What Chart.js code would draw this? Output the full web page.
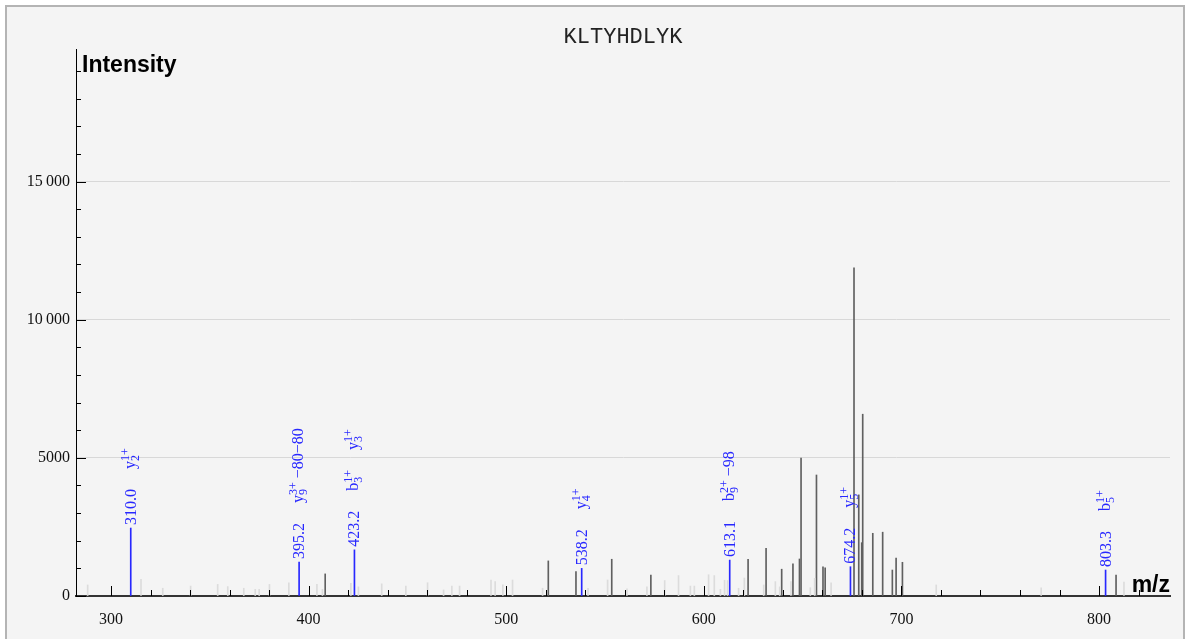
<!DOCTYPE html>
<html>
<head>
<meta charset="utf-8">
<title>KLTYHDLYK</title>
<script src="https://cdn.jsdelivr.net/npm/chart.js@4.4.0/dist/chart.umd.min.js"></script>
<style>
  body { margin: 0; background: #fff; }
  #frame { position: absolute; left: 5px; top: 5px; width: 1176px; height: 660px; border: 2px solid #b4b4b4; background: #f4f4f4; }
  #spectrum { position: absolute; left: 0; top: 0; }
</style>
</head>
<body>
<div id="frame"></div>
<canvas id="spectrum" width="1188" height="639"></canvas>
<script>
var peptide = 'KLTYHDLYK';

// unmatched low peaks (light grey)
var lightMz  = [288.2, 315.2, 326.2, 340.3, 354.0, 359.1, 367.2, 373.0, 375.0, 380.2, 390.0, 404.2, 407.0, 421.4, 425.2, 437.0, 449.2, 460.2, 468.3, 472.5, 476.4, 492.3, 494.4, 498.3, 503.2, 518.4, 541.4, 551.3, 561.1, 571.2, 580.2, 587.2, 593.2, 595.2, 602.4, 605.3, 608.4, 610.5, 612.0, 617.6, 620.5, 630.3, 636.2, 638.4, 644.1, 653.9, 656.1, 664.4, 717.6, 770.7, 812.6];
var lightInt = [400, 600, 280, 360, 420, 340, 280, 240, 240, 420, 480, 420, 240, 460, 330, 440, 360, 480, 220, 360, 360, 580, 520, 400, 580, 280, 280, 580, 260, 330, 560, 740, 360, 360, 770, 740, 240, 570, 560, 280, 650, 400, 520, 330, 520, 300, 640, 480, 400, 300, 500];

// unmatched peaks (dark grey)
var darkMz  = [408.4, 521.3, 535.3, 553.4, 573.2, 622.4, 631.5, 639.4, 645.1, 648.4, 649.2, 657.0, 660.3, 661.4, 676.0, 678.4, 679.9, 680.4, 685.5, 690.5, 695.4, 697.3, 700.5, 808.6];
var darkInt = [800, 1270, 880, 1330, 760, 1330, 1730, 970, 1160, 1340, 4990, 4380, 1060, 1020, 11880, 3660, 1930, 6580, 2270, 2310, 940, 1370, 1220, 760];

// matched fragment peaks (blue) and their ion names: [ion, subscript, charge, suffix]
var matchMz  = [310.0, 395.2, 423.2, 538.2, 613.1, 674.2, 803.3];
var matchInt = [2460, 1230, 1670, 1000, 1300, 1060, 940];
var matchIons = [
  [['y', '2', '1+', '']],
  [['y', '9', '3+', ' \u221280\u221280']],
  [['b', '3', '1+', ''], ['y', '3', '1+', '']],
  [['y', '4', '1+', '']],
  [['b', '9', '2+', ' \u221298']],
  [['y', '5', '1+', '']],
  [['b', '5', '1+', '']]
];

// axis ticks (labelled ones every 5000 / every 100)
var intTicks = [0, 1000, 2000, 3000, 4000, 5000, 6000, 7000, 8000, 9000, 10000, 11000, 12000, 13000, 14000, 15000, 16000, 17000, 18000, 19000];
var mzTicks = [300, 320, 340, 360, 380, 400, 420, 440, 460, 480, 500, 520, 540, 560, 580, 600, 620, 640, 660, 680, 700, 720, 740, 760, 780, 800, 820];

var SERIF = "'Liberation Serif', 'Times New Roman', serif";
var SANS = "'Liberation Sans', Arial, sans-serif";
var BLUE = 'rgb(40,40,255)';

function points(mz, inten) {
  return mz.map(function(m, i) { return {x: m, y: inten[i]}; });
}

function intLabel(v) {
  if (v % 5000 !== 0) return '';
  if (v >= 10000) return Math.floor(v / 1000) + '\u2009000';
  return String(v);
}

function drawIon(ctx, x, ion) {
  ctx.font = '16px ' + SERIF;
  ctx.fillText(ion[0], x, 4);
  x += ctx.measureText(ion[0]).width;
  ctx.font = '12px ' + SERIF;
  ctx.fillText(ion[2], x, -2);
  ctx.fillText(ion[1], x, 8);
  x += Math.max(ctx.measureText(ion[1]).width, ctx.measureText(ion[2]).width);
  if (ion[3]) {
    ctx.font = '16px ' + SERIF;
    ctx.fillText(ion[3], x, 4);
    x += ctx.measureText(ion[3]).width;
  }
  return x;
}

var decorations = {
  id: 'decorations',
  afterDraw: function(chart) {
    var ctx = chart.ctx, area = chart.chartArea;
    var xs = chart.scales.x, ys = chart.scales.y;
    ctx.save();

    // ticks pointing into the plot
    ctx.strokeStyle = '#000';
    ctx.lineWidth = 1;
    ctx.beginPath();
    ys.ticks.forEach(function(t) {
      var py = Math.round(ys.getPixelForValue(t.value)) + 0.5;
      var len = t.value % 5000 === 0 ? 10 : 5;
      ctx.moveTo(area.left, py);
      ctx.lineTo(area.left + len, py);
    });
    xs.ticks.forEach(function(t) {
      var px = Math.round(xs.getPixelForValue(t.value)) + 0.5;
      var len = t.value % 100 === 0 ? 10 : 6;
      ctx.moveTo(px, area.bottom);
      ctx.lineTo(px, area.bottom - len);
    });
    ctx.stroke();

    // peak annotations
    var meta = chart.getDatasetMeta(2);
    ctx.fillStyle = BLUE;
    ctx.textBaseline = 'alphabetic';
    ctx.textAlign = 'left';
    meta.data.forEach(function(bar, i) {
      ctx.save();
      ctx.translate(bar.x, bar.y - 3);
      ctx.rotate(-Math.PI / 2);
      ctx.font = '16px ' + SERIF;
      var txt = matchMz[i].toFixed(1);
      ctx.fillText(txt, 0, 5);
      var x = ctx.measureText(txt).width;
      matchIons[i].forEach(function(ion) {
        x = drawIon(ctx, x + 20, ion);
      });
      ctx.restore();
    });

    // titles
    ctx.fillStyle = '#222';
    ctx.textAlign = 'center';
    ctx.font = "22px 'Liberation Mono', 'Courier New', monospace";
    ctx.fillText(peptide, (area.left + area.right) / 2, 43);
    ctx.fillStyle = '#000';
    ctx.textAlign = 'left';
    ctx.font = 'bold 23px ' + SANS;
    ctx.fillText('Intensity', area.left + 6, 72);
    ctx.textAlign = 'right';
    ctx.fillText('m/z', area.right, 592);
    ctx.restore();
  }
};

function spectrum() {
  var canvas = document.getElementById('spectrum');
  new Chart(canvas.getContext('2d'), {
    type: 'bar',
    data: {
      datasets: [
        {data: points(lightMz, lightInt), backgroundColor: '#dcdcdc', barThickness: 1, grouped: false},
        {data: points(darkMz, darkInt), backgroundColor: '#606060', barThickness: 1, grouped: false},
        {data: points(matchMz, matchInt), backgroundColor: BLUE, barThickness: 1, grouped: false}
      ]
    },
    options: {
      responsive: false,
      animation: false,
      layout: {padding: {left: 0, top: 49, right: 18, bottom: 0}},
      plugins: {legend: {display: false}, tooltip: {enabled: false}},
      scales: {
        x: {
          type: 'linear',
          min: 282.3,
          max: 835.9,
          offset: false,
          grid: {display: false, offset: false},
          border: {display: true, color: '#333', width: 2},
          ticks: {
            autoSkip: false,
            maxRotation: 0,
            padding: 6,
            color: '#111',
            font: {family: SERIF, size: 16},
            callback: function(v) { return v % 100 === 0 ? String(v) : ''; }
          },
          afterBuildTicks: function(scale) {
            scale.ticks = mzTicks.map(function(v) { return {value: v}; });
          },
          afterFit: function(scale) { scale.height = 43; }
        },
        y: {
          type: 'linear',
          min: 0,
          max: 19800,
          grid: {
            drawTicks: false,
            color: function(c) { return (c.tick && c.tick.value % 5000 === 0 && c.tick.value > 0) ? '#d8d8d8' : 'transparent'; }
          },
          border: {display: true, color: '#000', width: 1},
          ticks: {
            autoSkip: false,
            padding: 6,
            color: '#111',
            font: {family: SERIF, size: 16},
            callback: intLabel
          },
          afterBuildTicks: function(scale) {
            scale.ticks = intTicks.map(function(v) { return {value: v}; });
          },
          afterFit: function(scale) { scale.width = 76; }
        }
      }
    },
    plugins: [decorations]
  });
}

spectrum();
</script>
</body>
</html>
